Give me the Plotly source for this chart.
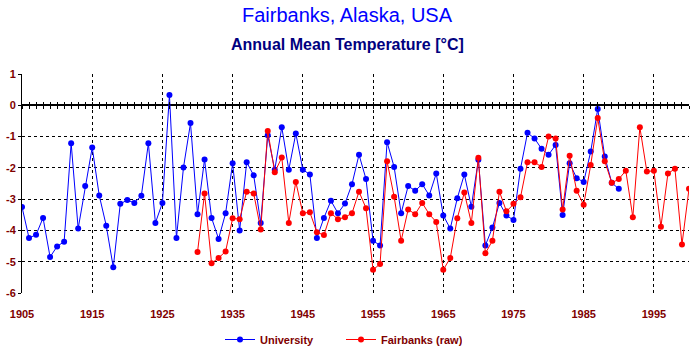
import plotly.graph_objects as go

# ---- data ----
uni_years = list(range(1905, 1991))
uni_temps = [-3.25, -4.24, -4.14, -3.60, -4.85, -4.51, -4.36, -1.21, -3.94, -2.58,
             -1.35, -2.88, -3.85, -5.18, -3.15, -3.03, -3.12, -2.89, -1.21, -3.76,
             -3.12, 0.33, -4.24, -1.99, -0.57, -3.48, -1.73, -3.60, -4.27, -3.45,
             -1.85, -4.00, -1.82, -2.24, -3.76, -0.96, -2.06, -0.70, -2.06, -0.90,
             -2.06, -2.21, -4.24, -3.60, -3.05, -3.45, -3.14, -2.52, -1.58, -2.36,
             -4.33, -4.48, -1.18, -1.97, -3.45, -2.58, -2.73, -2.52, -2.88, -2.18,
             -3.52, -3.94, -2.97, -2.21, -3.24, -1.74, -4.48, -3.91, -3.12, -3.52,
             -3.67, -2.03, -0.88, -1.06, -1.39, -1.58, -1.27, -3.51, -1.85, -2.33,
             -2.45, -1.48, -0.12, -1.64, -2.48, -2.67]

fbx_years = list(range(1930, 2001))
fbx_temps = [-4.69, -2.82, -5.05, -4.88, -4.67, -3.61, -3.64, -2.76, -2.82, -3.97,
             -0.82, -2.14, -1.67, -3.76, -2.45, -3.45, -3.42, -4.06, -4.15, -3.45,
             -3.64, -3.58, -3.45, -2.76, -3.29, -5.26, -5.07, -1.79, -2.92, -4.33,
             -3.33, -3.48, -3.12, -3.48, -3.73, -5.26, -4.88, -3.61, -2.79, -3.76,
             -1.68, -4.73, -4.33, -2.76, -3.39, -3.15, -2.94, -1.82, -1.82, -1.97,
             -1.00, -1.06, -3.33, -1.61, -2.73, -3.18, -1.91, -0.41, -1.79, -2.48,
             -2.36, -2.09, -3.58, -0.70, -2.12, -2.09, -3.88, -2.18, -2.03, -4.45,
             -2.67]

x_tick_vals = [1905, 1915, 1925, 1935, 1945, 1955, 1965, 1975, 1985, 1995]
x_tick_text = ["1905", "1915", "1925", "1935", "1945", "1955", "1965", "1975", "1985", "1995"]
y_tick_vals = [1, 0, -1, -2, -3, -4, -5, -6]
y_tick_text = ["1", "0", "-1", "-2", "-3", "-4", "-5", "-6"]

X_RANGE = [1905, 2000]
Y_RANGE = [-6, 1]

DARKRED = "#800000"
LABEL_FONT = dict(family="Liberation Sans, Arial, sans-serif", size=11, color=DARKRED, weight="bold")

fig = go.Figure()
fig.add_trace(go.Scatter(x=uni_years, y=uni_temps, mode="lines+markers", name="University",
                         line=dict(color="#0000FF", width=1),
                         marker=dict(color="#0000FF", size=6)))
fig.add_trace(go.Scatter(x=fbx_years, y=fbx_temps, mode="lines+markers", name="Fairbanks (raw)",
                         line=dict(color="#FF0000", width=1),
                         marker=dict(color="#FF0000", size=6)))
# carriers for the year-tick axes crossing the zero line
fig.add_trace(go.Scatter(x=[], y=[], xaxis="x2", showlegend=False, hoverinfo="skip"))
fig.add_trace(go.Scatter(x=[], y=[], xaxis="x3", showlegend=False, hoverinfo="skip"))

zero_pos = (0 - Y_RANGE[0]) / (Y_RANGE[1] - Y_RANGE[0])
tick_axis = dict(range=X_RANGE, overlaying="x", anchor="free", position=zero_pos,
                 tickmode="linear", tick0=X_RANGE[0], dtick=1, ticklen=3, tickwidth=1,
                 tickcolor="black", showticklabels=False, showgrid=False, zeroline=False,
                 showline=False)

fig.update_layout(
    width=694, height=354,
    margin=dict(l=22, r=5, t=74, b=50),
    paper_bgcolor="white", plot_bgcolor="white",
    showlegend=True,
    title=dict(text="Fairbanks, Alaska, USA", x=0.5, xref="container", xanchor="center",
               y=1 - 15 / 354, yref="container", yanchor="middle",
               font=dict(family="Liberation Sans Narrow, Liberation Sans, sans-serif",
                         size=20, color="#0000FF")),
    annotations=[dict(text="Annual Mean Temperature [°C]", xref="paper", yref="paper",
                      x=(347 - 22) / 667, y=1 + (74 - 43) / 230, xanchor="center", yanchor="middle",
                      showarrow=False,
                      font=dict(family="Liberation Sans, Arial, sans-serif", size=16,
                                color="#000080", weight="bold"))],
    xaxis=dict(range=X_RANGE, tickmode="array", tickvals=x_tick_vals, ticktext=x_tick_text,
               showgrid=True, gridcolor="black", griddash="dot", gridwidth=1,
               showline=False, zeroline=False, ticks="", tickfont=LABEL_FONT,
               ticklabelstandoff=13),
    xaxis2=dict(tick_axis, ticks="outside"),
    xaxis3=dict(tick_axis, ticks="inside"),
    yaxis=dict(range=Y_RANGE, tickmode="array", tickvals=y_tick_vals, ticktext=y_tick_text,
               showgrid=True, gridcolor="black", griddash="dot", gridwidth=1,
               showline=True, linecolor="black", linewidth=1,
               ticks="outside", ticklen=3, tickcolor="black",
               zeroline=True, zerolinecolor="black", zerolinewidth=2,
               tickfont=LABEL_FONT),
    legend=dict(orientation="h", x=(220 - 22) / 667, xanchor="left",
                yref="container", y=-0.02, yanchor="bottom",
                entrywidth=76, entrywidthmode="pixels", borderwidth=0,
                font=LABEL_FONT, bgcolor="rgba(0,0,0,0)"),
)

fig.write_html("out.html")
